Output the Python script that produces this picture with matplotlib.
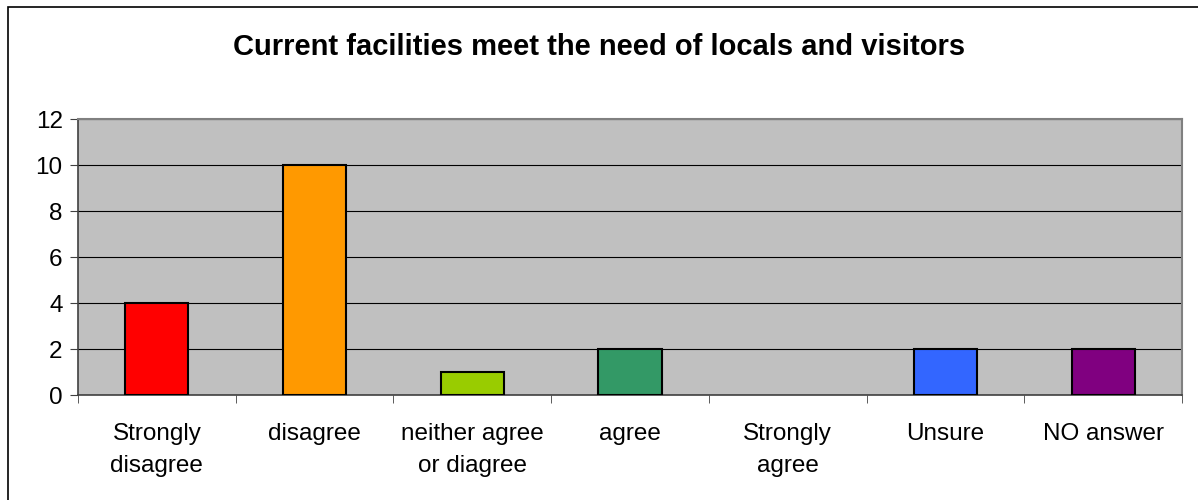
import matplotlib
matplotlib.use("Agg")
import matplotlib.pyplot as plt
from matplotlib.patches import Rectangle
import numpy as np

plt.rcParams['font.family'] = ['Liberation Sans', 'DejaVu Sans']

# data
categories = ["Strongly\ndisagree", "disagree", "neither agree\nor diagree",
              "agree", "Strongly\nagree", "Unsure", "NO answer"]
counts = [4, 10, 1, 2, 0, 2, 2]
bar_colors = ["#FF0000", "#FF9900", "#99CC00", "#339966", "#FFFF00", "#3366FF", "#800080"]
title = "Current facilities meet the need of locals and visitors"

fig = plt.figure(figsize=(11.98, 5.0), dpi=100)
# outer chart border
fig.patches.append(Rectangle((8 / 1198, -0.1), 1.2, (500 - 7) / 500 + 0.1,
                             transform=fig.transFigure, fill=False,
                             edgecolor="black", linewidth=1.2))

ax = fig.add_axes([78 / 1198, 105 / 500, 1104 / 1198, 276 / 500])
ax.set_facecolor("#C0C0C0")

x = np.arange(len(categories))
edges = ["black" if c > 0 else "none" for c in counts]
ax.bar(x, counts, width=0.4, color=bar_colors, edgecolor=edges, linewidth=1.5, zorder=3)

ax.set_xlim(-0.5, len(categories) - 0.5)
ax.set_ylim(0, 12)
ax.set_yticks(range(0, 13, 2))
ax.yaxis.grid(True, color="black", linewidth=0.8, zorder=0)
ax.set_axisbelow(True)

ax.set_xticks(x)
ax.set_xticklabels(categories, fontsize=17.5, linespacing=1.62, va="top")
ax.tick_params(axis="x", length=0, pad=20)
ax.set_xticks(np.arange(-0.5, len(categories), 1), minor=True)
ax.tick_params(axis="x", which="minor", length=6, direction="out", color="#404040")
ax.tick_params(axis="y", length=6, direction="out", labelsize=17.5, color="#404040", pad=5)

for side in ["left", "bottom"]:
    ax.spines[side].set_color("#404040")
    ax.spines[side].set_linewidth(1.2)
for side in ["top", "right"]:
    ax.spines[side].set_color("#808080")
    ax.spines[side].set_linewidth(1.5)

fig.text(0.5, 1 - 47 / 500, title, ha="center", va="center",
         fontsize=21, fontweight="bold")

fig.savefig("out.png", dpi=100)
